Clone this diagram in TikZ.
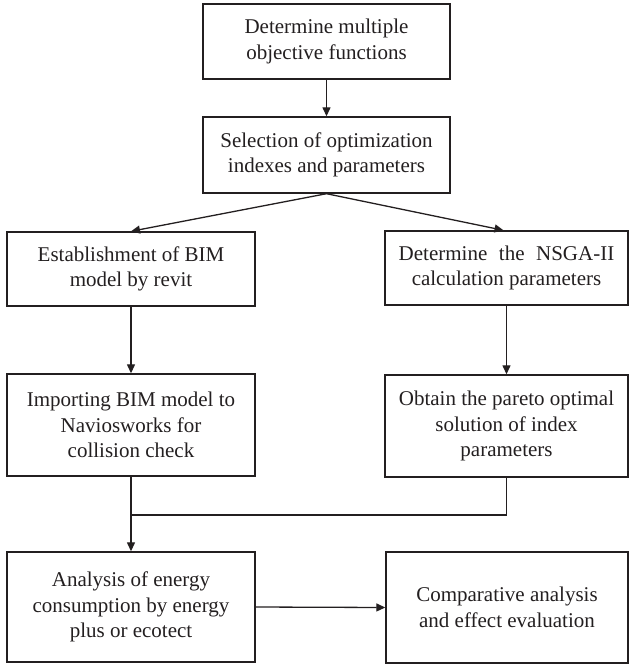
\documentclass[tikz,border=0pt]{standalone}
\usepackage{fontspec}
\setmainfont{Liberation Serif}
\usetikzlibrary{arrows.meta}
\definecolor{ink}{HTML}{231F20}
\tikzset{
  box/.style={draw=ink, line width=1.4pt, align=center, inner sep=0pt,
    text=ink, font=\fontsize{21}{25.5}\selectfont},
  conn/.style={draw=ink, line width=1.3pt},
  arr/.style={conn, -{Triangle[length=9pt,width=8pt]}}
}
\begin{document}
\begin{tikzpicture}[x=1pt,y=-1pt]
\useasboundingbox (0,0) rectangle (629,664);
\node[box, minimum width=247pt, minimum height=75pt] (b1) at (326.5,41.5)
  {Determine multiple\\objective functions};
\node[box, minimum width=247pt, minimum height=76pt] (b2) at (326.5,155)
  {Selection of optimization\\indexes and parameters};
\node[box, minimum width=248pt, minimum height=74pt] (b3) at (131,269)
  {Establishment of BIM\\model by revit};
\node[box, minimum width=243pt, minimum height=74pt] (b4) at (506.5,268)
  {Determine\hspace{0.55em}the\hspace{0.55em}NSGA-II\\calculation parameters};
\node[box, minimum width=248pt, minimum height=102pt] (b5) at (131,425)
  {Importing BIM model to\\Naviosworks for\\collision check};
\node[box, minimum width=243pt, minimum height=102pt] (b6) at (506.5,426)
  {Obtain the pareto optimal\\solution of index\\parameters};
\node[box, minimum width=248pt, minimum height=110pt] (b7) at (131,607)
  {Analysis of energy\\consumption by energy\\plus or ecotect};
\node[box, minimum width=242pt, minimum height=111pt] (b8) at (507,607.5)
  {Comparative analysis\\and effect evaluation};
\coordinate (m) at (131,515);
\draw[arr] (b1.south) -- (b2.north);
\draw[arr] (b2.south) -- (b3.north);
\draw[arr] (b2.south) -- ([xshift=-3pt]b4.north);
\draw[arr] (b3.south) -- (b5.north);
\draw[arr] (b4.south) -- (b6.north);
\draw[conn] (b6.south) -- (b6.south |- m) -- (m);
\draw[arr] (b5.south) -- (b7.north);
\draw[arr] (b7.east) -- (b8.west);
\end{tikzpicture}
\end{document}
